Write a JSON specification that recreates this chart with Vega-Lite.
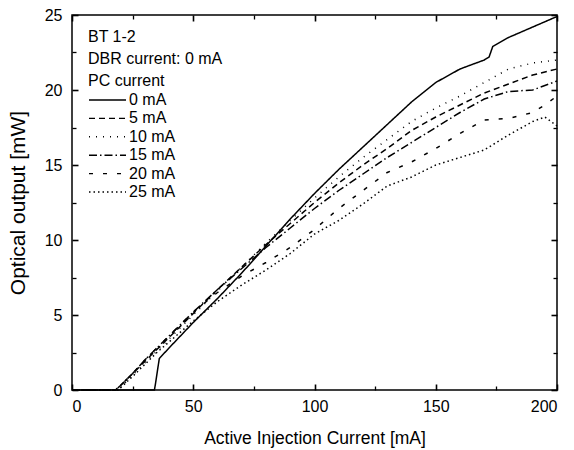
{
  "$schema": "https://vega.github.io/schema/vega-lite/v6.json",
  "width": 485,
  "height": 375,
  "autosize": {"type": "none"},
  "padding": {"left": 72, "top": 15, "right": 17, "bottom": 60},
  "background": "white",
  "config": {
    "font": "Liberation Sans",
    "view": {"stroke": "black", "strokeWidth": 1.5},
    "axis": {
      "grid": false,
      "domain": false,
      "labelColor": "black",
      "titleColor": "black",
      "labelFont": "Liberation Sans",
      "titleFont": "Liberation Sans",
      "labelFontSize": 15,
      "titleFontSize": 17,
      "titleFontWeight": "normal"
    },
    "legend": {
      "labelFont": "Liberation Sans",
      "titleFont": "Liberation Sans"
    }
  },
  "data": {
    "values": [
      {"I": 0, "P": 0, "pc": "0 mA"}, {"I": 34, "P": 0, "pc": "0 mA"}, {"I": 34.5, "P": 0.5, "pc": "0 mA"}, {"I": 36, "P": 2.1, "pc": "0 mA"}, {"I": 40, "P": 2.8, "pc": "0 mA"}, {"I": 50, "P": 4.5, "pc": "0 mA"}, {"I": 60, "P": 6.1, "pc": "0 mA"}, {"I": 70, "P": 7.8, "pc": "0 mA"}, {"I": 80, "P": 9.6, "pc": "0 mA"}, {"I": 90, "P": 11.4, "pc": "0 mA"}, {"I": 100, "P": 13.1, "pc": "0 mA"}, {"I": 110, "P": 14.7, "pc": "0 mA"}, {"I": 120, "P": 16.2, "pc": "0 mA"}, {"I": 130, "P": 17.7, "pc": "0 mA"}, {"I": 140, "P": 19.2, "pc": "0 mA"}, {"I": 150, "P": 20.5, "pc": "0 mA"}, {"I": 160, "P": 21.4, "pc": "0 mA"}, {"I": 170, "P": 22.0, "pc": "0 mA"}, {"I": 172, "P": 22.2, "pc": "0 mA"}, {"I": 173.5, "P": 22.9, "pc": "0 mA"}, {"I": 180, "P": 23.5, "pc": "0 mA"}, {"I": 190, "P": 24.2, "pc": "0 mA"}, {"I": 200, "P": 24.9, "pc": "0 mA"},

      {"I": 0, "P": 0, "pc": "5 mA"}, {"I": 18, "P": 0, "pc": "5 mA"}, {"I": 20, "P": 0.3, "pc": "5 mA"}, {"I": 25, "P": 1.1, "pc": "5 mA"}, {"I": 30, "P": 1.9, "pc": "5 mA"}, {"I": 35, "P": 2.7, "pc": "5 mA"}, {"I": 40, "P": 3.5, "pc": "5 mA"}, {"I": 50, "P": 5.1, "pc": "5 mA"}, {"I": 60, "P": 6.7, "pc": "5 mA"}, {"I": 70, "P": 8.2, "pc": "5 mA"}, {"I": 80, "P": 9.7, "pc": "5 mA"}, {"I": 90, "P": 11.1, "pc": "5 mA"}, {"I": 100, "P": 12.5, "pc": "5 mA"}, {"I": 110, "P": 13.8, "pc": "5 mA"}, {"I": 120, "P": 15.0, "pc": "5 mA"}, {"I": 130, "P": 16.1, "pc": "5 mA"}, {"I": 140, "P": 17.3, "pc": "5 mA"}, {"I": 150, "P": 18.2, "pc": "5 mA"}, {"I": 160, "P": 19.0, "pc": "5 mA"}, {"I": 170, "P": 19.8, "pc": "5 mA"}, {"I": 180, "P": 20.4, "pc": "5 mA"}, {"I": 190, "P": 21.0, "pc": "5 mA"}, {"I": 195, "P": 21.2, "pc": "5 mA"}, {"I": 200, "P": 21.4, "pc": "5 mA"},

      {"I": 0, "P": 0, "pc": "10 mA"}, {"I": 19, "P": 0, "pc": "10 mA"}, {"I": 21, "P": 0.3, "pc": "10 mA"}, {"I": 25, "P": 1.0, "pc": "10 mA"}, {"I": 30, "P": 1.8, "pc": "10 mA"}, {"I": 35, "P": 2.6, "pc": "10 mA"}, {"I": 40, "P": 3.4, "pc": "10 mA"}, {"I": 50, "P": 5.0, "pc": "10 mA"}, {"I": 60, "P": 6.6, "pc": "10 mA"}, {"I": 70, "P": 8.2, "pc": "10 mA"}, {"I": 80, "P": 9.8, "pc": "10 mA"}, {"I": 90, "P": 11.3, "pc": "10 mA"}, {"I": 100, "P": 12.8, "pc": "10 mA"}, {"I": 110, "P": 14.2, "pc": "10 mA"}, {"I": 120, "P": 15.5, "pc": "10 mA"}, {"I": 130, "P": 16.7, "pc": "10 mA"}, {"I": 140, "P": 17.9, "pc": "10 mA"}, {"I": 150, "P": 18.8, "pc": "10 mA"}, {"I": 160, "P": 19.6, "pc": "10 mA"}, {"I": 170, "P": 20.5, "pc": "10 mA"}, {"I": 180, "P": 21.4, "pc": "10 mA"}, {"I": 190, "P": 21.8, "pc": "10 mA"}, {"I": 195, "P": 21.9, "pc": "10 mA"}, {"I": 200, "P": 22.0, "pc": "10 mA"},

      {"I": 0, "P": 0, "pc": "15 mA"}, {"I": 18, "P": 0, "pc": "15 mA"}, {"I": 20, "P": 0.3, "pc": "15 mA"}, {"I": 25, "P": 1.1, "pc": "15 mA"}, {"I": 30, "P": 2.0, "pc": "15 mA"}, {"I": 35, "P": 2.8, "pc": "15 mA"}, {"I": 40, "P": 3.6, "pc": "15 mA"}, {"I": 50, "P": 5.2, "pc": "15 mA"}, {"I": 60, "P": 6.7, "pc": "15 mA"}, {"I": 70, "P": 8.1, "pc": "15 mA"}, {"I": 80, "P": 9.5, "pc": "15 mA"}, {"I": 90, "P": 10.8, "pc": "15 mA"}, {"I": 100, "P": 12.1, "pc": "15 mA"}, {"I": 110, "P": 13.3, "pc": "15 mA"}, {"I": 120, "P": 14.4, "pc": "15 mA"}, {"I": 130, "P": 15.5, "pc": "15 mA"}, {"I": 140, "P": 16.5, "pc": "15 mA"}, {"I": 150, "P": 17.5, "pc": "15 mA"}, {"I": 160, "P": 18.5, "pc": "15 mA"}, {"I": 170, "P": 19.4, "pc": "15 mA"}, {"I": 180, "P": 19.9, "pc": "15 mA"}, {"I": 190, "P": 20.0, "pc": "15 mA"}, {"I": 195, "P": 20.3, "pc": "15 mA"}, {"I": 200, "P": 20.6, "pc": "15 mA"},

      {"I": 0, "P": 0, "pc": "20 mA"}, {"I": 18, "P": 0, "pc": "20 mA"}, {"I": 20, "P": 0.3, "pc": "20 mA"}, {"I": 25, "P": 1.1, "pc": "20 mA"}, {"I": 30, "P": 2.0, "pc": "20 mA"}, {"I": 35, "P": 2.8, "pc": "20 mA"}, {"I": 40, "P": 3.6, "pc": "20 mA"}, {"I": 50, "P": 5.2, "pc": "20 mA"}, {"I": 60, "P": 6.5, "pc": "20 mA"}, {"I": 70, "P": 7.6, "pc": "20 mA"}, {"I": 80, "P": 8.5, "pc": "20 mA"}, {"I": 90, "P": 9.5, "pc": "20 mA"}, {"I": 100, "P": 10.7, "pc": "20 mA"}, {"I": 110, "P": 12.1, "pc": "20 mA"}, {"I": 120, "P": 13.3, "pc": "20 mA"}, {"I": 130, "P": 14.5, "pc": "20 mA"}, {"I": 140, "P": 15.2, "pc": "20 mA"}, {"I": 150, "P": 16.1, "pc": "20 mA"}, {"I": 160, "P": 17.1, "pc": "20 mA"}, {"I": 170, "P": 18.0, "pc": "20 mA"}, {"I": 180, "P": 18.1, "pc": "20 mA"}, {"I": 190, "P": 18.5, "pc": "20 mA"}, {"I": 195, "P": 19.0, "pc": "20 mA"}, {"I": 200, "P": 19.6, "pc": "20 mA"},

      {"I": 0, "P": 0, "pc": "25 mA"}, {"I": 19, "P": 0, "pc": "25 mA"}, {"I": 21, "P": 0.3, "pc": "25 mA"}, {"I": 25, "P": 0.9, "pc": "25 mA"}, {"I": 30, "P": 1.7, "pc": "25 mA"}, {"I": 35, "P": 2.5, "pc": "25 mA"}, {"I": 40, "P": 3.2, "pc": "25 mA"}, {"I": 50, "P": 4.6, "pc": "25 mA"}, {"I": 60, "P": 5.9, "pc": "25 mA"}, {"I": 70, "P": 7.0, "pc": "25 mA"}, {"I": 80, "P": 8.0, "pc": "25 mA"}, {"I": 90, "P": 9.1, "pc": "25 mA"}, {"I": 100, "P": 10.4, "pc": "25 mA"}, {"I": 110, "P": 11.3, "pc": "25 mA"}, {"I": 120, "P": 12.4, "pc": "25 mA"}, {"I": 130, "P": 13.6, "pc": "25 mA"}, {"I": 140, "P": 14.2, "pc": "25 mA"}, {"I": 150, "P": 15.0, "pc": "25 mA"}, {"I": 160, "P": 15.5, "pc": "25 mA"}, {"I": 170, "P": 16.0, "pc": "25 mA"}, {"I": 180, "P": 17.0, "pc": "25 mA"}, {"I": 190, "P": 17.9, "pc": "25 mA"}, {"I": 195, "P": 18.2, "pc": "25 mA"}, {"I": 200, "P": 17.6, "pc": "25 mA"}
    ]
  },
  "resolve": {"axis": {"x": "independent", "y": "independent"}},
  "layer": [
    {
      "mark": {"type": "line", "color": "black", "strokeWidth": 1.5},
      "encoding": {
        "x": {
          "field": "I", "type": "quantitative",
          "scale": {"domain": [0, 200], "nice": false},
          "axis": {
            "orient": "bottom",
            "title": "Active Injection Current [mA]",
            "values": [0, 50, 100, 150, 200],
            "tickSize": -6, "tickWidth": 1.6, "tickColor": "black",
            "labelPadding": 14,
            "labelFontSize": 16,
            "titlePadding": 15,
            "titleFontSize": 17.5
          }
        },
        "y": {
          "field": "P", "type": "quantitative",
          "scale": {"domain": [0, 25], "nice": false},
          "axis": {
            "orient": "left",
            "title": "Optical output [mW]",
            "values": [0, 5, 10, 15, 20, 25],
            "tickSize": -6, "tickWidth": 1.6, "tickColor": "black",
            "labelPadding": 16,
            "labelFontSize": 16,
            "titleFontSize": 21,
            "titlePadding": 16
          }
        },
        "strokeDash": {
          "field": "pc", "type": "nominal",
          "scale": {
            "domain": ["0 mA", "5 mA", "10 mA", "15 mA", "20 mA", "25 mA"],
            "range": [[1, 0], [6, 4], [1, 6], [8, 3, 1.5, 3], [4, 10], [1.5, 3]]
          },
          "legend": {
            "orient": "none",
            "legendX": 16,
            "legendY": 14,
            "title": ["BT 1-2", "DBR current: 0 mA", "PC current"],
            "titleFontSize": 16,
            "titleFontWeight": "normal",
            "titleColor": "black",
            "titleLineHeight": 22,
            "titlePadding": 2,
            "labelFontSize": 16,
            "labelColor": "black",
            "labelOffset": 2,
            "symbolType": "stroke",
            "symbolSize": 1369,
            "symbolStrokeWidth": 1.4,
            "symbolStrokeColor": "black",
            "clipHeight": 18,
            "rowPadding": 0.4,
            "padding": 0
          }
        }
      }
    },
    {
      "mark": {"type": "line", "opacity": 0},
      "encoding": {
        "x": {
          "field": "I", "type": "quantitative",
          "axis": {"orient": "top", "title": null, "labels": false, "values": [0, 50, 100, 150, 200], "tickSize": -6, "tickWidth": 1.6, "tickColor": "black"}
        },
        "y": {
          "field": "P", "type": "quantitative",
          "axis": {"orient": "right", "title": null, "labels": false, "values": [0, 5, 10, 15, 20, 25], "tickSize": -6, "tickWidth": 1.6, "tickColor": "black"}
        }
      }
    },
    {
      "mark": {"type": "line", "opacity": 0},
      "encoding": {
        "x": {
          "field": "I", "type": "quantitative",
          "axis": {"orient": "bottom", "title": null, "labels": false, "values": [25, 75, 125, 175], "tickSize": -4, "tickWidth": 1.3, "tickColor": "black"}
        },
        "y": {
          "field": "P", "type": "quantitative",
          "axis": {"orient": "left", "title": null, "labels": false, "values": [2.5, 7.5, 12.5, 17.5, 22.5], "tickSize": -4, "tickWidth": 1.3, "tickColor": "black"}
        }
      }
    },
    {
      "mark": {"type": "line", "opacity": 0},
      "encoding": {
        "x": {
          "field": "I", "type": "quantitative",
          "axis": {"orient": "top", "title": null, "labels": false, "values": [25, 75, 125, 175], "tickSize": -4, "tickWidth": 1.3, "tickColor": "black"}
        },
        "y": {
          "field": "P", "type": "quantitative",
          "axis": {"orient": "right", "title": null, "labels": false, "values": [2.5, 7.5, 12.5, 17.5, 22.5], "tickSize": -4, "tickWidth": 1.3, "tickColor": "black"}
        }
      }
    }
  ]
}
